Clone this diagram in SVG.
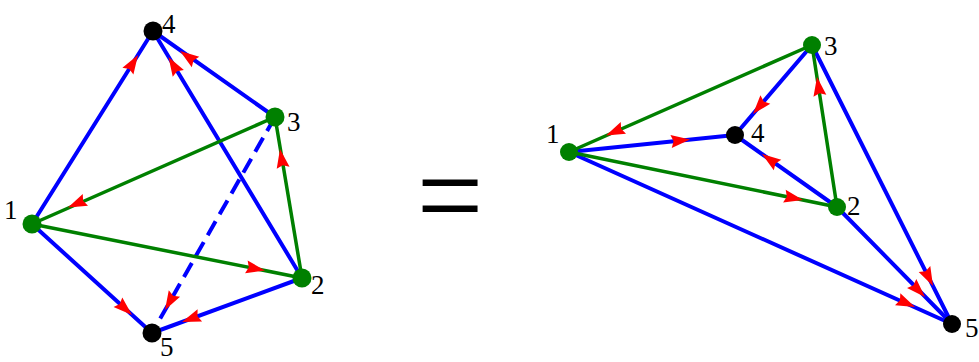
<svg xmlns="http://www.w3.org/2000/svg" xmlns:xlink="http://www.w3.org/1999/xlink" width="979" height="362" viewBox="0 0 979 362">
<style>
.b{stroke:#0000FF;stroke-width:4;fill:none;stroke-linecap:round}
.g{stroke:#008000;stroke-width:3.5;fill:none;stroke-linecap:round}
.d{stroke-dasharray:16 8;stroke-linecap:butt}
.ah{fill:#FF0000}
.gn{fill:#008000}
.kn{fill:#000000}
.lb{font-family:"Liberation Serif","Times New Roman",serif;font-size:27px;fill:#000}
.eq{font-family:"Liberation Serif","Times New Roman",serif;font-size:96px;fill:#000}
</style>
<defs>
<path id="ah" d="M0,0 L-19,-6.5 L-16.5,0 L-19,6.5 Z"/>
</defs>
<g id="connectors">
<!-- left graph -->
<line class="b" x1="32" y1="224" x2="153" y2="31"/>
<line class="b" x1="302" y1="278" x2="153" y2="31"/>
<line class="b" x1="275" y1="117" x2="153" y2="31"/>
<line class="b" x1="32" y1="224" x2="152" y2="333"/>
<line class="b" x1="302" y1="278" x2="152" y2="333"/>
<line class="b d" x1="275" y1="117" x2="152" y2="333"/>
<line class="g" x1="275" y1="117" x2="32" y2="224"/>
<line class="g" x1="32" y1="224" x2="302" y2="278"/>
<line class="g" x1="302" y1="278" x2="275" y2="117"/>
<!-- right graph -->
<line class="b" x1="569" y1="152" x2="735" y2="135"/>
<line class="b" x1="812" y1="45" x2="735" y2="135"/>
<line class="b" x1="837" y1="207" x2="735" y2="135"/>
<line class="b" x1="812" y1="45" x2="952" y2="324"/>
<line class="b" x1="837" y1="207" x2="952" y2="324"/>
<line class="b" x1="569" y1="152" x2="952" y2="324"/>
<line class="g" x1="812" y1="45" x2="569" y2="152"/>
<line class="g" x1="569" y1="152" x2="837" y2="207"/>
<line class="g" x1="837" y1="207" x2="812" y2="45"/>
<!-- arrowheads left -->
<use href="#ah" class="ah" transform="translate(138,55) rotate(-57.9)"/>
<use href="#ah" class="ah" transform="translate(168.5,57) rotate(-121.1)"/>
<use href="#ah" class="ah" transform="translate(180,51) rotate(-144.8)"/>
<use href="#ah" class="ah" transform="translate(68,207.5) rotate(156.2)"/>
<use href="#ah" class="ah" transform="translate(265,270.6) rotate(11.3)"/>
<use href="#ah" class="ah" transform="translate(280,149) rotate(-99.5)"/>
<use href="#ah" class="ah" transform="translate(165,310) rotate(119.7)"/>
<use href="#ah" class="ah" transform="translate(132,315) rotate(42.2)"/>
<use href="#ah" class="ah" transform="translate(182,322) rotate(159.9)"/>
<!-- arrowheads right -->
<use href="#ah" class="ah" transform="translate(606,135.5) rotate(156.2)"/>
<use href="#ah" class="ah" transform="translate(690,139.6) rotate(-5.8)"/>
<use href="#ah" class="ah" transform="translate(753,114) rotate(130.6)"/>
<use href="#ah" class="ah" transform="translate(762,154) rotate(-144.8)"/>
<use href="#ah" class="ah" transform="translate(803,200) rotate(11.6)"/>
<use href="#ah" class="ah" transform="translate(817,77) rotate(-98.8)"/>
<use href="#ah" class="ah" transform="translate(933,286) rotate(63.4)"/>
<use href="#ah" class="ah" transform="translate(925,297) rotate(45.5)"/>
<use href="#ah" class="ah" transform="translate(915,307) rotate(24.2)"/>
</g>
<g id="L1"><circle class="gn" cx="32" cy="224" r="9.5"/><text class="lb" x="4" y="219">1</text></g>
<g id="L2"><circle class="gn" cx="302" cy="278" r="9.5"/><text class="lb" x="311" y="294">2</text></g>
<g id="L3"><circle class="gn" cx="275" cy="117" r="9.5"/><text class="lb" x="287" y="131">3</text></g>
<g id="L4"><circle class="kn" cx="153" cy="31" r="9.5"/><text class="lb" x="162" y="33">4</text></g>
<g id="L5"><circle class="kn" cx="152" cy="333" r="9.5"/><text class="lb" x="160" y="356">5</text></g>
<g id="eq"><text class="eq" text-anchor="middle" transform="translate(450,238.5) scale(1.23,1.35)">=</text></g>
<g id="R1"><circle class="gn" cx="569" cy="152" r="9"/><text class="lb" x="546" y="143">1</text></g>
<g id="R2"><circle class="gn" cx="837" cy="207" r="9"/><text class="lb" x="847" y="215">2</text></g>
<g id="R3"><circle class="gn" cx="812" cy="45" r="9"/><text class="lb" x="824" y="55">3</text></g>
<g id="R4"><circle class="kn" cx="735" cy="135" r="9"/><text class="lb" x="751" y="142">4</text></g>
<g id="R5"><circle class="kn" cx="952" cy="324" r="9"/><text class="lb" x="965" y="337">5</text></g>
</svg>
